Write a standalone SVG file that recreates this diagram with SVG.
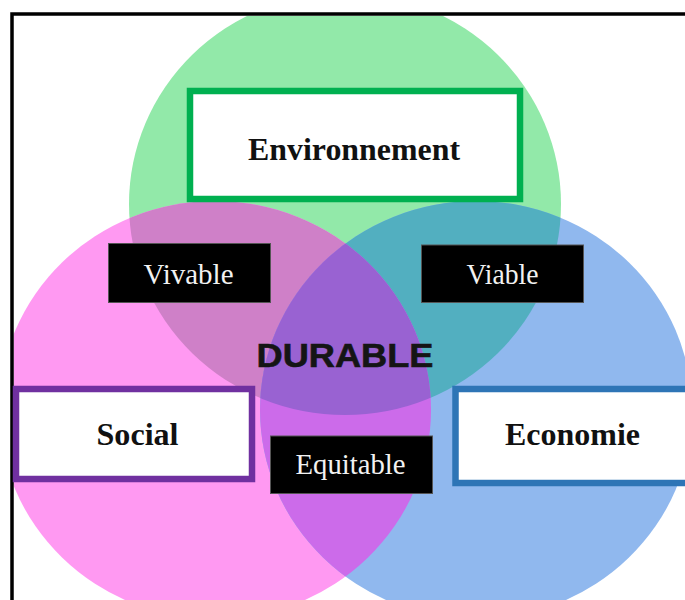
<svg xmlns="http://www.w3.org/2000/svg" width="685" height="600" viewBox="0 0 685 600">
<defs>
<style>
.lbl{font-family:"Liberation Serif","Times New Roman",serif;font-weight:bold;font-size:32px;fill:#111;text-anchor:middle}
.tag{font-family:"Liberation Serif","Times New Roman",serif;font-size:29px;fill:#f2f2f2;text-anchor:middle}
.tagbox{fill:#000;stroke:#555;stroke-width:1}
.box{fill:#fff;stroke-width:6.5}
</style>
<clipPath id="cG"><ellipse cx="345" cy="204" rx="216" ry="211"/></clipPath>
<clipPath id="cP"><ellipse cx="215" cy="410" rx="216" ry="209"/></clipPath>
<clipPath id="frame"><rect x="13.5" y="16" width="680" height="600"/></clipPath>
</defs>
<rect width="685" height="600" fill="#fff"/>
<g id="venn" clip-path="url(#frame)">
<ellipse cx="345" cy="204" rx="216" ry="211" fill="#92E9A9"/>
<ellipse cx="215" cy="410" rx="216" ry="209" fill="#FF99F2"/>
<ellipse cx="476" cy="410" rx="216" ry="209" fill="#90B8EE"/>
<ellipse cx="215" cy="410" rx="216" ry="209" fill="#CF80C8" clip-path="url(#cG)"/>
<ellipse cx="476" cy="410" rx="216" ry="209" fill="#52AFC0" clip-path="url(#cG)"/>
<ellipse cx="476" cy="410" rx="216" ry="209" fill="#CC6BEA" clip-path="url(#cP)"/>
<g clip-path="url(#cG)"><ellipse cx="476" cy="410" rx="216" ry="209" fill="#9962D2" clip-path="url(#cP)"/></g>
</g>
<path d="M12 600 V14 H685" fill="none" stroke="#000" stroke-width="3.5"/>
<g id="environnement">
<rect class="box" x="190" y="91" width="330" height="108" stroke="#00B050"/>
<text class="lbl" x="354" y="160" textLength="212" lengthAdjust="spacingAndGlyphs">Environnement</text>
</g>
<g id="social">
<rect class="box" x="16" y="389" width="236" height="90" stroke="#7030A0"/>
<text class="lbl" x="137.5" y="445" textLength="82" lengthAdjust="spacingAndGlyphs">Social</text>
</g>
<g id="economie">
<rect class="box" x="455.5" y="389" width="260" height="94" stroke="#2E75B6"/>
<text class="lbl" x="572.5" y="445" textLength="135" lengthAdjust="spacingAndGlyphs">Economie</text>
</g>
<g id="vivable">
<rect class="tagbox" x="108.5" y="243.5" width="162" height="59"/>
<text class="tag" x="188.5" y="283.5" textLength="90" lengthAdjust="spacingAndGlyphs">Vivable</text>
</g>
<g id="viable">
<rect class="tagbox" x="421.5" y="245" width="162" height="57.5"/>
<text class="tag" x="502.5" y="283.5" textLength="72" lengthAdjust="spacingAndGlyphs">Viable</text>
</g>
<g id="equitable">
<rect class="tagbox" x="270.5" y="436" width="162" height="57.5"/>
<text class="tag" x="350.5" y="473.5" textLength="110" lengthAdjust="spacingAndGlyphs">Equitable</text>
</g>
<g id="durable">
<text x="345" y="367" font-family="'Liberation Sans',Arial,sans-serif" font-weight="bold" font-size="33" fill="#151515" stroke="#151515" stroke-width="0.6" text-anchor="middle" textLength="177" lengthAdjust="spacingAndGlyphs">DURABLE</text>
</g>
</svg>
